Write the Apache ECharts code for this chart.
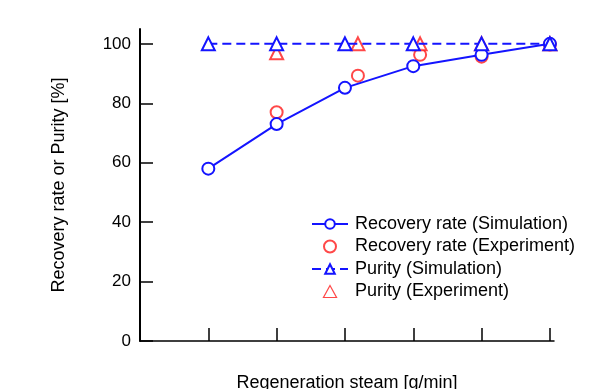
<!DOCTYPE html>
<html>
<head>
<meta charset="utf-8">
<script src="https://cdn.jsdelivr.net/npm/echarts@6/dist/echarts.min.js"></script>
<style>html,body{margin:0;padding:0;background:#fff;}#chart{width:593px;height:389px;}</style>
</head>
<body>
<div id="chart"></div>
<script>
// Data
const xSim = [1, 2, 3, 4, 5, 6];
const recoverySim = [58, 73, 85.2, 92.5, 96.3, 100];
const puritySim = [100, 100, 100, 100, 100, 100];
const xExp = [2, 3.19, 4.1, 5, 6];
const recoveryExp = [77, 89.3, 96.3, 95.7, 99.8];
const purityExp = [97, 100, 100, 100, 100];
const yTicks = [0, 20, 40, 60, 80, 100];
const xTicks = [1, 2, 3, 4, 5, 6];
const seriesNames = ['Recovery rate (Simulation)', 'Recovery rate (Experiment)', 'Purity (Simulation)', 'Purity (Experiment)'];

const pairs = (xs, ys) => xs.map((x, i) => [x, ys[i]]);
const FONT = 'Liberation Sans, Arial, sans-serif';
const BLUE = '#1414ff';
const RED = '#ff1a1a';
const TRI = 'path://M6,0L12,11L0,11Z';

const chart = echarts.init(document.getElementById('chart'), null, {renderer: 'canvas'});
chart.setOption({
  animation: false,
  backgroundColor: '#fff',
  textStyle: {fontFamily: FONT, color: '#000'},
  grid: {left: 140, right: 39, top: 29, bottom: 48, containLabel: false, outerBoundsMode: 'none'},
  legend: {
    orient: 'vertical', left: 306, top: 210,
    itemWidth: 36, itemHeight: 12, itemGap: 4.5,
    data: [
      seriesNames[0],
      seriesNames[1],
      seriesNames[2],
      {name: seriesNames[3], icon: TRI, itemStyle: {color: '#fff', borderColor: RED, borderWidth: 1.2}}
    ],
    textStyle: {fontFamily: FONT, fontSize: 18, color: '#000', padding: [0, 0, 0, 2]}
  },
  xAxis: {
    type: 'value', min: 0, max: 6.06,
    name: 'Regeneration steam [g/min]', nameLocation: 'middle', nameGap: 33,
    nameTextStyle: {fontFamily: FONT, fontSize: 18, color: '#000'},
    axisLine: {show: true, lineStyle: {color: '#000', width: 1.5}},
    axisTick: {show: true, inside: true, length: 13, lineStyle: {color: '#000', width: 1.5}, customValues: xTicks},
    axisLabel: {show: false},
    splitLine: {show: false}
  },
  yAxis: {
    type: 'value', min: 0, max: 105,
    name: 'Recovery rate or Purity [%]', nameLocation: 'middle', nameGap: 72, nameRotate: 90,
    nameTextStyle: {fontFamily: FONT, fontSize: 18, color: '#000'},
    axisLine: {show: true, lineStyle: {color: '#000', width: 2}},
    axisTick: {show: true, inside: true, length: 13, lineStyle: {color: '#000', width: 1.5}, customValues: yTicks},
    axisLabel: {show: true, fontFamily: FONT, fontSize: 17, color: '#000', margin: 9, customValues: yTicks},
    splitLine: {show: false}
  },
  series: [
    {
      name: seriesNames[1], type: 'scatter', data: pairs(xExp, recoveryExp), z: 2,
      symbol: 'emptyCircle', symbolSize: 12,
      itemStyle: {color: RED, borderColor: RED, borderWidth: 1.2}
    },
    {
      name: seriesNames[3], type: 'scatter', data: pairs(xExp, purityExp), z: 2,
      symbol: 'emptyTriangle', symbolSize: 13,
      itemStyle: {color: RED, borderColor: RED, borderWidth: 1.2}
    },
    {
      name: seriesNames[0], type: 'line', data: pairs(xSim, recoverySim), z: 3,
      symbol: 'emptyCircle', symbolSize: 12, showAllSymbol: true,
      lineStyle: {color: BLUE, width: 2},
      itemStyle: {color: BLUE, borderColor: BLUE, borderWidth: 1.2}
    },
    {
      name: seriesNames[2], type: 'line', data: pairs(xSim, puritySim), z: 3,
      symbol: 'emptyTriangle', symbolSize: 13, showAllSymbol: true,
      lineStyle: {color: BLUE, width: 2, type: [9, 5]},
      itemStyle: {color: BLUE, borderColor: BLUE, borderWidth: 1.2}
    }
  ]
});
</script>
</body>
</html>
